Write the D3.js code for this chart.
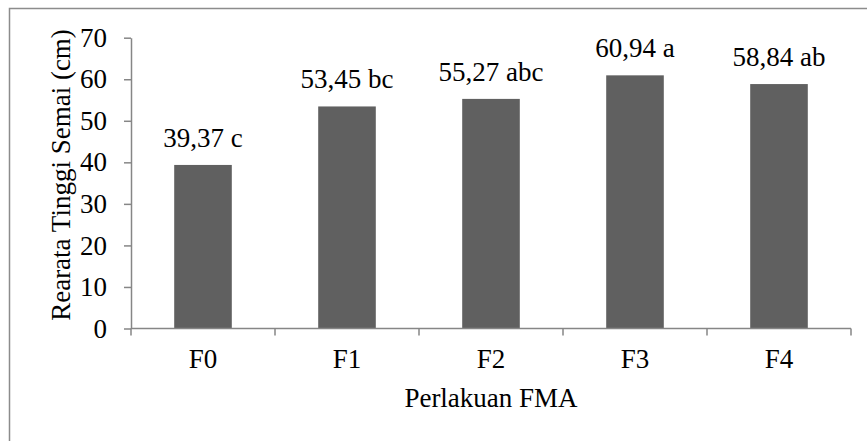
<!DOCTYPE html>
<html>
<head>
<meta charset="utf-8">
<script src="https://cdn.jsdelivr.net/npm/d3@7"></script>
<style>
  html, body { margin: 0; padding: 0; background: #fff; }
</style>
</head>
<body>
<svg id="chart" width="867" height="441"></svg>
<script>
// Mean seedling height per FMA treatment, with significance letters
const categories = ["F0", "F1", "F2", "F3", "F4"];
const values = [39.37, 53.45, 55.27, 60.94, 58.84];
const letters = ["c", "bc", "abc", "a", "ab"];
const yTicks = [0, 10, 20, 30, 40, 50, 60, 70];

const FONT = "'Liberation Serif', 'Times New Roman', serif";
const FS = 27;

const svg = d3.select("#chart");
const plotLeft = 131, plotRight = 851, plotTop = 37.7, plotBottom = 328.5;

// frame edges (left and top)
svg.append("path")
  .attr("d", "M9.5,441 V8.5 H867")
  .attr("fill", "none").attr("stroke", "#8c8c8c").attr("stroke-width", 1.5);

const x = d3.scaleBand().domain(categories).range([plotLeft, plotRight]).padding(0);
const y = d3.scaleLinear().domain([0, 70]).range([plotBottom, plotTop]);

const axisColor = "#868686";
const fmt = v => d3.format(".2f")(v).replace(".", ",");

// bars
const barW = x.bandwidth() * 0.4;
svg.append("g").selectAll("rect")
  .data(categories)
  .join("rect")
  .attr("x", (d) => x(d) + x.bandwidth() / 2 - barW / 2)
  .attr("y", (d, i) => y(values[i]))
  .attr("width", barW)
  .attr("height", (d, i) => y(0) - y(values[i]))
  .attr("fill", "#606060");

// value labels
svg.append("g").selectAll("text")
  .data(categories)
  .join("text")
  .attr("x", (d) => x(d) + x.bandwidth() / 2)
  .attr("y", (d, i) => y(values[i]) - 18)
  .attr("text-anchor", "middle")
  .style("font-family", FONT)
  .style("font-size", FS + "px")
  .attr("fill", "#000")
  .text((d, i) => fmt(values[i]) + " " + letters[i]);

// y axis
const yAxis = svg.append("g")
  .attr("transform", `translate(${plotLeft},0)`)
  .call(d3.axisLeft(y).tickValues(yTicks).tickSize(7).tickPadding(17).tickSizeOuter(0));
yAxis.select(".domain").attr("stroke", axisColor).attr("stroke-width", 1.5);
yAxis.selectAll(".tick line").attr("stroke", axisColor).attr("stroke-width", 1.5);
yAxis.selectAll(".tick text")
  .style("font-family", FONT)
  .style("font-size", FS + "px")
  .attr("fill", "#000");

// x axis line with ticks at category boundaries
const xg = svg.append("g");
xg.append("line")
  .attr("x1", plotLeft).attr("x2", plotRight)
  .attr("y1", plotBottom).attr("y2", plotBottom)
  .attr("stroke", axisColor).attr("stroke-width", 1.5);
const bounds = categories.map(c => x(c)).concat([x(categories[categories.length - 1]) + x.bandwidth()]);
xg.selectAll("line.tk")
  .data(bounds)
  .join("line")
  .attr("class", "tk")
  .attr("x1", d => d).attr("x2", d => d)
  .attr("y1", plotBottom).attr("y2", plotBottom + 7)
  .attr("stroke", axisColor).attr("stroke-width", 1.5);
xg.selectAll("text")
  .data(categories)
  .join("text")
  .attr("x", d => x(d) + x.bandwidth() / 2)
  .attr("y", 368)
  .attr("text-anchor", "middle")
  .style("font-family", FONT)
  .style("font-size", FS + "px")
  .attr("fill", "#000")
  .text(d => d);

// axis titles
svg.append("text")
  .attr("x", (plotLeft + plotRight) / 2)
  .attr("y", 406.5)
  .attr("text-anchor", "middle")
  .style("font-family", FONT)
  .style("font-size", FS + "px")
  .attr("fill", "#000")
  .text("Perlakuan FMA");

svg.append("text")
  .attr("transform", "translate(70,175) rotate(-90)")
  .attr("text-anchor", "middle")
  .style("font-family", FONT)
  .style("font-size", FS + "px")
  .attr("fill", "#000")
  .text("Rearata Tinggi Semai (cm)");
</script>
</body>
</html>
